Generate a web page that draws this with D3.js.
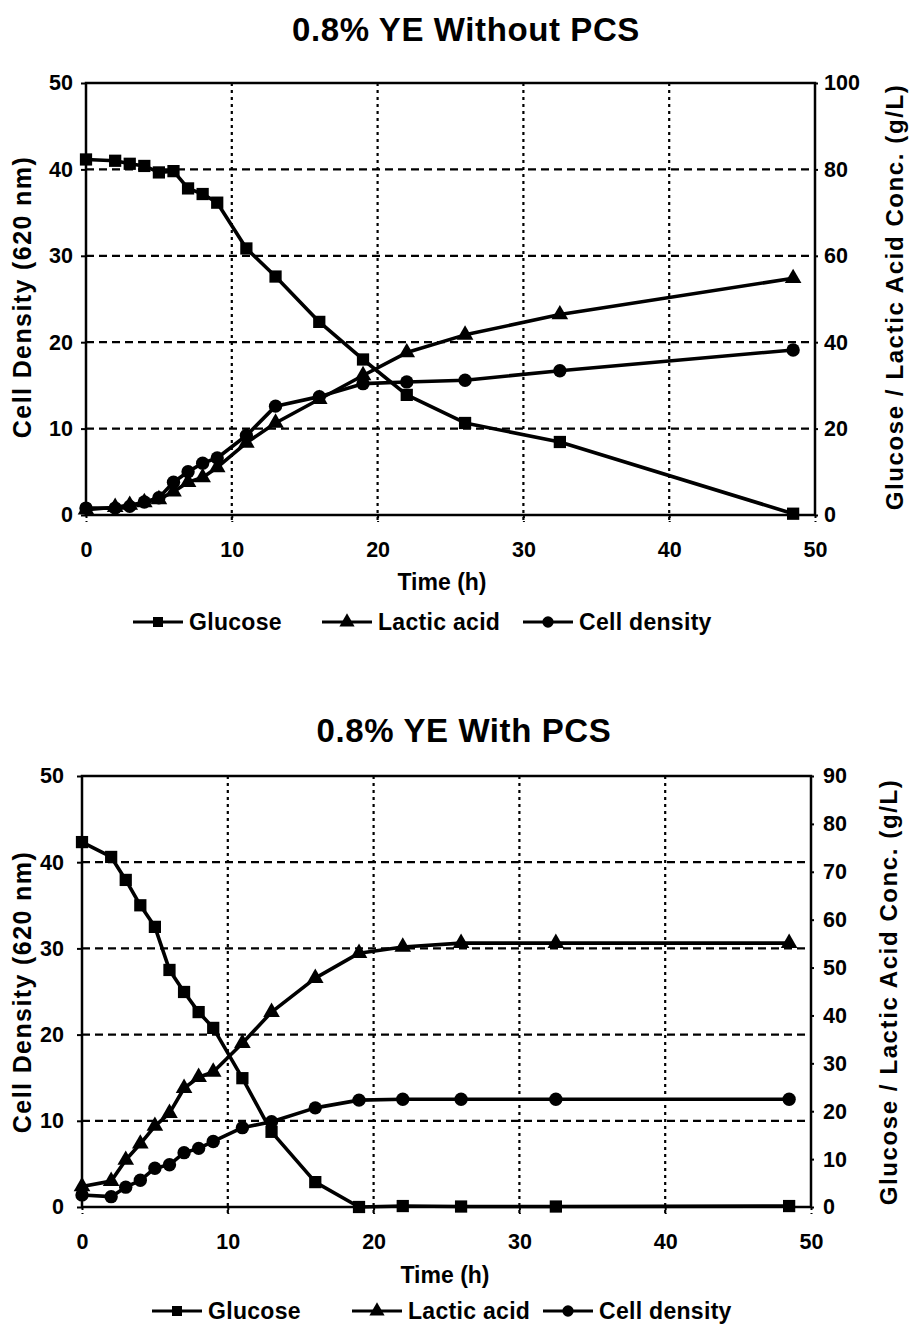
<!DOCTYPE html>
<html>
<head>
<meta charset="utf-8">
<script src="https://cdn.jsdelivr.net/npm/d3@7"></script>
<style>
  body { margin: 0; background: #fff; }
  text { font-family: "Liberation Sans", Arial, sans-serif; font-weight: bold; fill: #000; }
</style>
</head>
<body>
<div id="chart"></div>
<script>
// ------------------------------------------------------------------------ //
// DATA
// ------------------------------------------------------------------------ //

// sampling times (h), same for both runs
var times = [0, 2, 3, 4, 5, 6, 7, 8, 9, 11, 13, 16, 19, 22, 26, 32.5, 48.5];

// 0.8% YE without PCS
var glucoseA = [82.3, 82.0, 81.3, 80.8, 79.3, 79.6, 75.6, 74.3, 72.3, 61.7, 55.2, 44.7, 36.0, 27.8, 21.3, 16.9, 0.3];
var lacticA  = [1.2, 1.8, 2.3, 2.9, 3.6, 5.4, 7.6, 8.7, 11.0, 16.7, 21.3, 26.8, 32.3, 37.6, 41.7, 46.4, 54.8];
var cellA    = [0.8, 0.8, 1.0, 1.5, 2.0, 3.8, 5.0, 6.0, 6.6, 9.2, 12.6, 13.7, 15.2, 15.4, 15.6, 16.7, 19.1];

// 0.8% YE with PCS
var glucoseB = [76.2, 73.1, 68.3, 63.0, 58.5, 49.5, 44.9, 40.7, 37.4, 26.9, 15.7, 5.2, 0.0, 0.2, 0.1, 0.1, 0.2];
var lacticB  = [4.3, 5.4, 9.8, 13.2, 16.9, 19.6, 24.8, 27.1, 28.2, 34.2, 40.7, 47.8, 53.0, 54.3, 55.1, 55.1, 55.1];
var cellB    = [1.4, 1.2, 2.3, 3.1, 4.5, 4.9, 6.3, 6.8, 7.6, 9.2, 9.9, 11.5, 12.4, 12.5, 12.5, 12.5, 12.5];

var xTicks = [0, 10, 20, 30, 40, 50];
var leftTicks = [0, 10, 20, 30, 40, 50];
var rightTicksA = [0, 20, 40, 60, 80, 100];
var rightTicksB = [0, 10, 20, 30, 40, 50, 60, 70, 80, 90];
var legendNames = ["Glucose", "Lactic acid", "Cell density"];

// ------------------------------------------------------------------------ //
// SVG AREA
// ------------------------------------------------------------------------ //

var svg = d3.select("#chart")
  .append("svg")
    .attr("width", 911)
    .attr("height", 1327);

function drawChart(cfg) {
  var g = svg.append("g");

  var x = d3.scaleLinear().domain([0, 50]).range([cfg.left, cfg.right]);
  var yL = d3.scaleLinear().domain([0, 50]).range([cfg.bottom, cfg.top]);
  var yR = d3.scaleLinear().domain([0, cfg.rightMax]).range([cfg.bottom, cfg.top]);

  // title
  g.append("text")
    .attr("x", cfg.titleX).attr("y", cfg.titleY)
    .attr("text-anchor", "middle")
    .style("font-size", "33px")
    .style("letter-spacing", "0.6px")
    .text(cfg.title);

  // grid: dashed horizontal, dotted vertical
  g.selectAll(".hgrid")
    .data(leftTicks.slice(1, -1))
    .enter()
    .append("line")
      .attr("x1", cfg.left).attr("x2", cfg.right)
      .attr("y1", function(d){ return yL(d) }).attr("y2", function(d){ return yL(d) })
      .style("stroke", "#000").style("stroke-width", 2.2)
      .style("stroke-dasharray", "8,5");
  g.selectAll(".vgrid")
    .data(xTicks.slice(1, -1))
    .enter()
    .append("line")
      .attr("x1", function(d){ return x(d) }).attr("x2", function(d){ return x(d) })
      .attr("y1", cfg.top).attr("y2", cfg.bottom + 7)
      .style("stroke", "#000").style("stroke-width", 2.2)
      .style("stroke-dasharray", "3,4");

  // plot frame
  g.append("rect")
    .attr("x", cfg.left).attr("y", cfg.top)
    .attr("width", cfg.right - cfg.left).attr("height", cfg.bottom - cfg.top)
    .style("fill", "none").style("stroke", "#000").style("stroke-width", 2.5);

  // axes
  var xAxis = g.append("g")
    .attr("transform", "translate(0," + cfg.bottom + ")")
    .call(d3.axisBottom(x).tickValues(xTicks).tickSize(7).tickPadding(20));
  var lAxis = g.append("g")
    .attr("transform", "translate(" + cfg.left + ",0)")
    .call(d3.axisLeft(yL).tickValues(leftTicks).tickSize(5).tickPadding(cfg.leftPad));
  var rAxis = g.append("g")
    .attr("transform", "translate(" + cfg.right + ",0)")
    .call(d3.axisRight(yR).tickValues(cfg.rightTicks).tickSize(3).tickPadding(cfg.rightPad));
  [xAxis, lAxis, rAxis].forEach(function(a){
    a.select(".domain").remove();
    a.selectAll("line").style("stroke", "#000").style("stroke-width", 2);
    a.selectAll("text")
      .style("font-size", "21.5px")
      .style("font-family", "'Liberation Sans', Arial, sans-serif")
      .style("font-weight", "bold")
      .style("fill", "#000");
  });
  xAxis.selectAll("line").style("stroke-dasharray", "3,3");

  // axis titles
  g.append("text")
    .attr("x", cfg.xTitleX).attr("y", cfg.xTitleY)
    .attr("text-anchor", "middle")
    .style("font-size", "23px")
    .text("Time (h)");
  g.append("text")
    .attr("transform", "translate(" + cfg.lTitleX + "," + cfg.midY + ")rotate(-90)")
    .attr("text-anchor", "middle")
    .style("font-size", "25px")
    .style("letter-spacing", "1.4px")
    .text("Cell Density (620 nm)");
  g.append("text")
    .attr("transform", "translate(" + cfg.rTitleX + "," + cfg.midY + ")rotate(-90)")
    .attr("text-anchor", "middle")
    .style("font-size", "24px")
    .style("letter-spacing", "1.6px")
    .text("Glucose / Lactic Acid Conc. (g/L)");

  // series
  var series = [
    { vals: cfg.glucose, y: yR, sym: d3.symbolSquare, size: 150 },
    { vals: cfg.lactic,  y: yR, sym: d3.symbolTriangle, size: 120 },
    { vals: cfg.cell,    y: yL, sym: d3.symbolCircle, size: 140 }
  ];
  series.forEach(function(s){
    var pts = times.map(function(t, i){ return [x(t), s.y(s.vals[i])] });
    g.append("path")
      .attr("d", d3.line()(pts))
      .style("fill", "none").style("stroke", "#000").style("stroke-width", 3.6)
      .style("stroke-linejoin", "round");
    g.selectAll(null)
      .data(pts)
      .enter()
      .append("path")
        .attr("d", d3.symbol().type(s.sym).size(s.size))
        .attr("transform", function(d){ return "translate(" + d[0] + "," + d[1] + ")" })
        .style("fill", "#000");
  });

  // legend
  var syms = [d3.symbolSquare, d3.symbolTriangle, d3.symbolCircle];
  legendNames.forEach(function(name, i){
    var lx = cfg.legendX[i];
    g.append("line")
      .attr("x1", lx).attr("x2", lx + 50)
      .attr("y1", cfg.legendY).attr("y2", cfg.legendY)
      .style("stroke", "#000").style("stroke-width", 3.2);
    g.append("path")
      .attr("d", d3.symbol().type(syms[i]).size(100))
      .attr("transform", "translate(" + (lx + 25) + "," + cfg.legendY + ")")
      .style("fill", "#000");
    g.append("text")
      .attr("x", lx + 56).attr("y", cfg.legendY + 8)
      .style("font-size", "23px")
      .style("letter-spacing", "0.3px")
      .text(name);
  });
}

drawChart({
  title: "0.8% YE Without PCS", titleX: 466, titleY: 41,
  left: 86, right: 815, top: 83, bottom: 515,
  rightMax: 100, rightTicks: rightTicksA, leftPad: 8, rightPad: 6,
  xTitleX: 442, xTitleY: 590, lTitleX: 31, rTitleX: 903, midY: 297,
  glucose: glucoseA, lactic: lacticA, cell: cellA,
  legendX: [133, 322, 523], legendY: 622
});

drawChart({
  title: "0.8% YE With PCS", titleX: 464, titleY: 742,
  left: 82, right: 811, top: 776, bottom: 1207,
  rightMax: 90, rightTicks: rightTicksB, leftPad: 13, rightPad: 9,
  xTitleX: 445, xTitleY: 1283, lTitleX: 31, rTitleX: 897, midY: 992,
  glucose: glucoseB, lactic: lacticB, cell: cellB,
  legendX: [152, 352, 543], legendY: 1311
});
</script>
</body>
</html>
